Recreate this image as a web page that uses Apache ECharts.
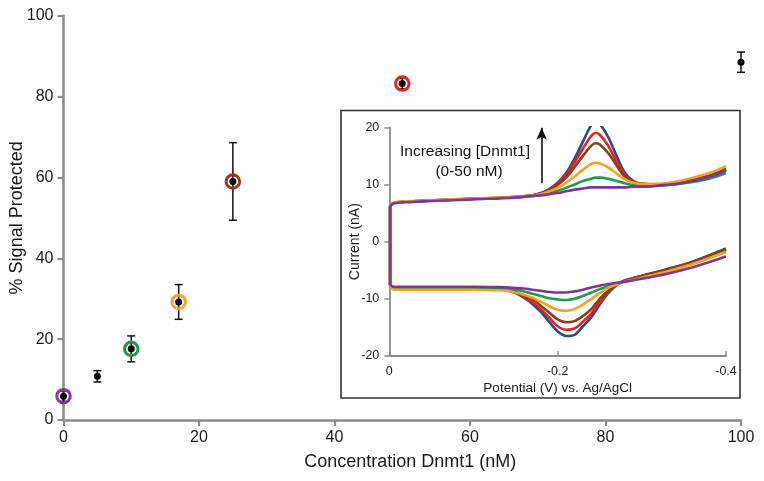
<!DOCTYPE html>
<html>
<head>
<meta charset="utf-8">
<script src="https://cdn.jsdelivr.net/npm/echarts@6/dist/echarts.min.js"></script>
<style>html,body{margin:0;padding:0;background:#fff}#c{width:764px;height:481px}</style>
</head>
<body>
<div id="c"></div>
<script>
// ---- main chart data ----
const conc = [0, 5, 10, 17, 25, 50, 100];
const signal = [5.9, 10.8, 17.6, 29.2, 59.0, 83.2, 88.5];
const errBar = [1.3, 1.4, 3.2, 4.3, 9.6, 1.3, 2.5];
const ringConc = [0, 10, 17, 25, 50];
const ringSignal = [5.9, 17.6, 29.2, 59.0, 83.2];
const ringColors = ['#7d3c98', '#1d9a4c', '#f5a623', '#983a14', '#e52521'];
const xTicks = [0, 20, 40, 60, 80, 100];
const yTicks = [0, 20, 40, 60, 80, 100];

// ---- inset CV data ----
const cvNames = ['blue', 'red', 'brown', 'green', 'orange', 'purple'];
const cvColors = ['#2b4c7e', '#e8231e', '#8e3b16', '#1f9a4f', '#f6a11f', '#7a36a0'];
const potTop = [-0.40, -0.38, -0.35, -0.32, -0.30, -0.29, -0.28, -0.27, -0.26, -0.25, -0.245, -0.24, -0.23, -0.22, -0.21, -0.20, -0.19, -0.18, -0.17, -0.15, -0.10, -0.05, -0.02, -0.006, -0.001];
const topBlue   = [12.7, 11.5, 10.5, 10.0, 10.1, 10.6, 12.0, 15.0, 18.3, 20.6, 21.0, 20.4, 17.5, 14.5, 12.0, 10.3, 9.2, 8.5, 8.1, 7.8, 7.5, 7.2, 7.0, 6.8, 6.3];
const topRed    = [12.6, 11.5, 10.5, 10.0, 10.1, 10.5, 11.6, 14.0, 16.8, 18.7, 19.0, 18.5, 16.3, 13.8, 11.6, 10.1, 9.1, 8.4, 8.1, 7.8, 7.5, 7.2, 7.0, 6.8, 6.3];
const topBrown  = [12.6, 11.5, 10.5, 10.0, 10.1, 10.4, 11.3, 13.3, 15.5, 17.0, 17.2, 16.8, 15.0, 13.0, 11.2, 9.9, 9.0, 8.4, 8.1, 7.8, 7.5, 7.2, 7.0, 6.8, 6.3];
const topGreen  = [12.0, 11.0, 10.2, 9.8, 9.8, 9.9, 10.2, 10.6, 11.0, 11.2, 11.2, 11.0, 10.6, 10.0, 9.4, 8.9, 8.5, 8.2, 8.0, 7.8, 7.5, 7.2, 7.0, 6.8, 6.3];
const topOrange = [13.2, 12.0, 10.8, 10.1, 10.1, 10.3, 10.9, 11.9, 13.0, 13.7, 13.8, 13.6, 12.6, 11.4, 10.3, 9.4, 8.8, 8.3, 8.1, 7.85, 7.55, 7.25, 7.05, 6.9, 6.3];
const topPurple = [12.4, 11.3, 10.3, 9.8, 9.6, 9.6, 9.5, 9.5, 9.5, 9.5, 9.5, 9.5, 9.3, 9.1, 8.8, 8.5, 8.3, 8.1, 8.0, 7.7, 7.4, 7.1, 6.9, 6.7, 6.2];
const potBot = [-0.001, -0.006, -0.05, -0.10, -0.13, -0.14, -0.15, -0.16, -0.17, -0.18, -0.19, -0.20, -0.21, -0.22, -0.23, -0.24, -0.25, -0.26, -0.27, -0.28, -0.30, -0.33, -0.36, -0.40];
const botBlue   = [-7.8, -8.1, -8.1, -8.2, -8.3, -8.5, -9.0, -9.8, -10.9, -12.3, -14.0, -15.7, -16.5, -16.3, -14.8, -13.2, -11.0, -9.0, -7.6, -6.8, -6.0, -4.8, -3.5, -1.2];
const botRed    = [-7.8, -8.1, -8.1, -8.2, -8.3, -8.5, -8.9, -9.6, -10.6, -11.8, -13.3, -14.8, -15.4, -15.2, -14.0, -12.6, -10.6, -8.8, -7.5, -6.8, -6.0, -4.9, -3.6, -1.4];
const botBrown  = [-7.8, -8.1, -8.1, -8.2, -8.3, -8.4, -8.8, -9.4, -10.1, -11.2, -12.4, -13.6, -14.1, -13.9, -13.0, -11.8, -10.0, -8.6, -7.5, -6.8, -6.0, -4.9, -3.6, -1.3];
const botGreen  = [-7.8, -8.1, -8.1, -8.1, -8.2, -8.2, -8.4, -8.7, -9.1, -9.5, -9.9, -10.1, -10.2, -10.0, -9.5, -8.9, -8.3, -7.8, -7.3, -7.0, -6.3, -5.2, -3.9, -1.7];
const botOrange = [-8.0, -8.4, -8.4, -8.4, -8.5, -8.6, -8.9, -9.3, -9.8, -10.5, -11.3, -11.9, -12.1, -11.8, -11.0, -10.0, -9.0, -8.1, -7.5, -7.0, -6.3, -5.2, -3.9, -1.8];
const botPurple = [-7.6, -7.9, -7.9, -7.9, -7.95, -8.0, -8.1, -8.2, -8.4, -8.6, -8.8, -8.9, -8.9, -8.7, -8.4, -8.0, -7.7, -7.4, -7.2, -7.0, -6.5, -5.6, -4.5, -2.6];
const topSets = [topBlue, topRed, topBrown, topGreen, topOrange, topPurple];
const botSets = [botBlue, botRed, botBrown, botGreen, botOrange, botPurple];
const insetXTicks = [0, -0.2, -0.4];
const insetYTicks = [-20, -10, 0, 10, 20];
const arrowPot = -0.181;
const arrowFrom = 10.2, arrowTo = 19.9;

const FONT = '"Liberation Sans", Arial, sans-serif';
const AX = '#8c8c8c';

const chart = echarts.init(document.getElementById('c'), null, {renderer: 'canvas'});

const zip = (xs, ys) => xs.map((x, i) => [x, ys[i]]);

const series = [];
// inset CV curves
cvNames.forEach((n, k) => {
  const common = {
    type: 'line', xAxisIndex: 1, yAxisIndex: 1, showSymbol: false, symbol: 'none',
    lineStyle: {color: cvColors[k], width: 2.6}, itemStyle: {color: cvColors[k]},
    z: 3 + k, silent: true, animation: false
  };
  series.push(Object.assign({}, common, {name: n + '-top', smooth: 0.35, data: zip(potTop, topSets[k])}));
  series.push(Object.assign({}, common, {name: n + '-bot', smooth: 0.35, data: zip(potBot, botSets[k])}));
  const t = topSets[k], b = botSets[k];
  series.push(Object.assign({}, common, {name: n + '-v', smooth: false,
    data: [[potTop[potTop.length - 1], t[t.length - 1]], [potBot[0], b[0]]]}));
});
// arrow in inset
series.push({
  type: 'line', xAxisIndex: 1, yAxisIndex: 1, symbol: 'none', data: [], silent: true, animation: false,
  markLine: {
    silent: true, animation: false, symbol: ['none', 'arrow'], symbolSize: [8, 12],
    label: {show: false},
    lineStyle: {color: '#111', width: 1.6, type: 'solid'},
    data: [[{coord: [arrowPot, arrowFrom]}, {coord: [arrowPot, arrowTo]}]]
  }
});
// main error bars
series.push({
  type: 'custom', xAxisIndex: 0, yAxisIndex: 0, z: 10, animation: false, silent: true,
  data: conc.map((c, i) => [c, signal[i] - errBar[i], signal[i] + errBar[i]]),
  renderItem: function (params, api) {
    const lo = api.coord([api.value(0), api.value(1)]);
    const hi = api.coord([api.value(0), api.value(2)]);
    const w = 4;
    const st = {stroke: '#111', lineWidth: 1.5};
    return {type: 'group', children: [
      {type: 'line', shape: {x1: lo[0], y1: lo[1], x2: hi[0], y2: hi[1]}, style: st},
      {type: 'line', shape: {x1: lo[0] - w, y1: lo[1], x2: lo[0] + w, y2: lo[1]}, style: st},
      {type: 'line', shape: {x1: hi[0] - w, y1: hi[1], x2: hi[0] + w, y2: hi[1]}, style: st}
    ]};
  }
});
// rings
series.push({
  type: 'scatter', xAxisIndex: 0, yAxisIndex: 0, z: 11, animation: false, silent: true,
  symbol: 'circle', symbolSize: 13.5,
  data: ringConc.map((c, i) => ({value: [c, ringSignal[i]],
    itemStyle: {color: 'rgba(0,0,0,0)', borderColor: ringColors[i], borderWidth: 3, opacity: 1}}))
});
// black points
series.push({
  type: 'scatter', xAxisIndex: 0, yAxisIndex: 0, z: 12, animation: false, silent: true,
  symbol: 'circle', symbolSize: 7, itemStyle: {color: '#000', opacity: 1},
  data: zip(conc, signal)
});

const option = {
  backgroundColor: '#fff',
  animation: false,
  textStyle: {fontFamily: FONT},
  grid: [
    {left: 63.5, right: 23, top: 15.7, bottom: 61, containLabel: false, outerBoundsMode: 'none'},
    {left: 389.3, right: 38, top: 127.3, bottom: 125, containLabel: false, outerBoundsMode: 'none', z: 2}
  ],
  xAxis: [
    {
      type: 'value', gridIndex: 0, min: 0, max: 100, interval: 20,
      name: 'Concentration Dnmt1 (nM)', nameLocation: 'middle', nameGap: 33, nameMoveOverlap: false,
      nameTextStyle: {fontSize: 18, color: '#1a1a1a', fontFamily: FONT, padding: [0, 0, 0, 16]},
      axisLine: {show: true, onZero: false, lineStyle: {color: AX, width: 2.6}},
      axisTick: {show: true, length: 6, lineStyle: {color: AX, width: 2.2}},
      axisLabel: {fontSize: 16, color: '#1a1a1a', margin: 10, fontFamily: FONT},
      splitLine: {show: false}
    },
    {
      type: 'value', gridIndex: 1, min: -0.4, max: 0, interval: 0.2, inverse: true,
      name: 'Potential (V) vs. Ag/AgCl', nameLocation: 'middle', nameGap: 25, nameMoveOverlap: false,
      nameTextStyle: {fontSize: 13.5, color: '#1a1a1a', fontFamily: FONT},
      axisLine: {show: true, onZero: false, lineStyle: {color: AX, width: 1.8}},
      axisTick: {show: true, inside: true, length: 5, lineStyle: {color: AX, width: 1.5}},
      axisLabel: {fontSize: 12.5, color: '#1a1a1a', margin: 9, fontFamily: FONT,
        formatter: v => (Math.abs(v) < 1e-9 ? '0' : v.toFixed(1))},
      splitLine: {show: false}
    }
  ],
  yAxis: [
    {
      type: 'value', gridIndex: 0, min: 0, max: 100, interval: 20,
      name: '% Signal Protected', nameLocation: 'middle', nameGap: 37, nameRotate: 90, nameMoveOverlap: false,
      nameTextStyle: {fontSize: 18, color: '#1a1a1a', fontFamily: FONT},
      axisLine: {show: true, onZero: false, lineStyle: {color: AX, width: 2.6}},
      axisTick: {show: true, length: 6, lineStyle: {color: AX, width: 2.2}},
      axisLabel: {fontSize: 16, color: '#1a1a1a', margin: 10, fontFamily: FONT},
      splitLine: {show: false}
    },
    {
      type: 'value', gridIndex: 1, min: -20, max: 20, interval: 10,
      name: 'Current (nA)', nameLocation: 'middle', nameGap: 27, nameRotate: 90, nameMoveOverlap: false,
      nameTextStyle: {fontSize: 14, color: '#1a1a1a', fontFamily: FONT},
      axisLine: {show: true, onZero: false, lineStyle: {color: AX, width: 1.8}},
      axisTick: {show: true, length: 5, lineStyle: {color: AX, width: 1.5}},
      axisLabel: {fontSize: 12.5, color: '#1a1a1a', margin: 10, fontFamily: FONT},
      splitLine: {show: false}
    }
  ],
  graphic: [
    {type: 'rect', z: -1, silent: true,
      shape: {x: 341, y: 110.5, width: 399, height: 287.5},
      style: {fill: '#fff', stroke: '#333', lineWidth: 1.6}},
    {type: 'text', z: 50, silent: true, x: 465, y: 152,
      style: {text: 'Increasing [Dnmt1]', fontSize: 15.5, fontFamily: FONT, fill: '#111',
        align: 'center', verticalAlign: 'middle'}},
    {type: 'text', z: 50, silent: true, x: 469, y: 172,
      style: {text: '(0-50 nM)', fontSize: 15.5, fontFamily: FONT, fill: '#111',
        align: 'center', verticalAlign: 'middle'}}
  ],
  series: series
};
chart.setOption(option);
</script>
</body>
</html>
